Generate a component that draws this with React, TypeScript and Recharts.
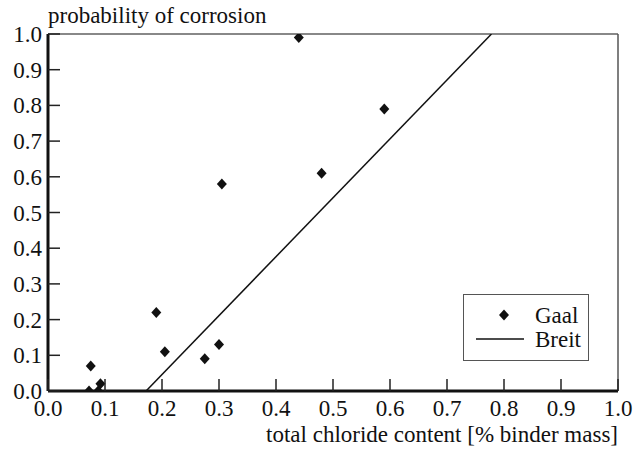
import { ComposedChart, Scatter, Line, XAxis, YAxis, ReferenceLine, Label } from 'recharts'

const FONT = 'Liberation Serif, Times New Roman, serif'

// Gaal measurements: chloride content vs probability
const gaalX = [0.072, 0.075, 0.088, 0.092, 0.19, 0.205, 0.275, 0.3, 0.305, 0.44, 0.48, 0.59]
const gaalY = [0.0, 0.07, 0.0, 0.02, 0.22, 0.11, 0.09, 0.13, 0.58, 0.99, 0.61, 0.79]

// Breit model line
const breitX = [0.172, 0.778]
const breitY = [0.0, 1.0]

const ticks = [0, 0.1, 0.2, 0.3, 0.4, 0.5, 0.6, 0.7, 0.8, 0.9, 1.0]

const gaalData = gaalX.map((x, i) => ({ x, y: gaalY[i] }))
const breitData = breitX.map((x, i) => ({ x, y: breitY[i] }))

const Diamond = (props: any) => {
  const { cx, cy } = props
  return <path d={`M${cx},${cy - 5.5}L${cx + 5},${cy}L${cx},${cy + 5.5}L${cx - 5},${cy}Z`} fill="#111" />
}

const XTick = (props: any) => {
  const { x, y, payload } = props
  return (
    <g>
      <line x1={x} y1={y} x2={x} y2={y - 12} stroke="#222" strokeWidth={1.5} />
      <text x={x} y={y + 25} textAnchor="middle" fontSize={23} fontFamily={FONT} fill="#111">
        {Number(payload.value).toFixed(1)}
      </text>
    </g>
  )
}

const YTick = (props: any) => {
  const { x, y, payload } = props
  return (
    <g>
      <line x1={x} y1={y} x2={x + 12} y2={y} stroke="#222" strokeWidth={1.5} />
      <text x={x - 6} y={y} dy="0.35em" textAnchor="end" fontSize={23} fontFamily={FONT} fill="#111">
        {Number(payload.value).toFixed(1)}
      </text>
    </g>
  )
}

const LegendBox = () => (
  <div
    style={{
      position: 'absolute',
      left: 463,
      top: 294,
      width: 126,
      height: 67,
      border: '1px solid #555',
      background: '#fff',
      boxSizing: 'border-box',
    }}
  >
    <svg width={124} height={65} style={{ display: 'block' }}>
      <path d="M40,14.5L45,20L40,25.5L35,20Z" fill="#111" />
      <text x={71} y={20} dy="0.35em" fontSize={23} fontFamily={FONT} fill="#111">
        Gaal
      </text>
      <line x1={12} y1={44} x2={60} y2={44} stroke="#111" strokeWidth={1.5} />
      <text x={71} y={44} dy="0.35em" fontSize={23} fontFamily={FONT} fill="#111">
        Breit
      </text>
    </svg>
  </div>
)

export default function App() {
  return (
    <div style={{ position: 'absolute', left: 0, top: 0, width: 633, height: 450, background: '#fff' }}>
      <ComposedChart width={633} height={450} margin={{ top: 34, right: 15, bottom: 0, left: 0 }}>
        <XAxis
          dataKey="x"
          type="number"
          domain={[0, 1]}
          ticks={ticks}
          height={59}
          tickSize={0}
          tickMargin={0}
          tickLine={false}
          tick={<XTick />}
          axisLine={{ stroke: '#111', strokeWidth: 3 }}
          allowDataOverflow
        >
          <Label
            content={(p: any) => (
              <text
                x={p.viewBox.x + p.viewBox.width}
                y={p.viewBox.y + 51}
                textAnchor="end"
                fontSize={23}
                fontFamily={FONT}
                fill="#111"
              >
                total chloride content [% binder mass]
              </text>
            )}
          />
        </XAxis>
        <YAxis
          dataKey="y"
          type="number"
          domain={[0, 1]}
          ticks={ticks}
          width={48}
          tickSize={0}
          tickMargin={0}
          tickLine={false}
          tick={<YTick />}
          axisLine={{ stroke: '#111', strokeWidth: 3 }}
          allowDataOverflow
        >
          <Label
            content={(p: any) => (
              <text
                x={p.viewBox.x + p.viewBox.width}
                y={p.viewBox.y - 11}
                textAnchor="start"
                fontSize={23}
                fontFamily={FONT}
                fill="#111"
              >
                probability of corrosion
              </text>
            )}
          />
        </YAxis>
        <ReferenceLine y={1} stroke="#888" strokeWidth={2} />
        <ReferenceLine x={1} stroke="#555" strokeWidth={1.5} />
        <Line
          data={breitData}
          dataKey="y"
          type="linear"
          stroke="#111"
          strokeWidth={1.5}
          dot={false}
          activeDot={false}
          isAnimationActive={false}
          name="Breit"
        />
        <Scatter data={gaalData} dataKey="y" shape={<Diamond />} isAnimationActive={false} name="Gaal" />
      </ComposedChart>
      <LegendBox />
    </div>
  )
}
